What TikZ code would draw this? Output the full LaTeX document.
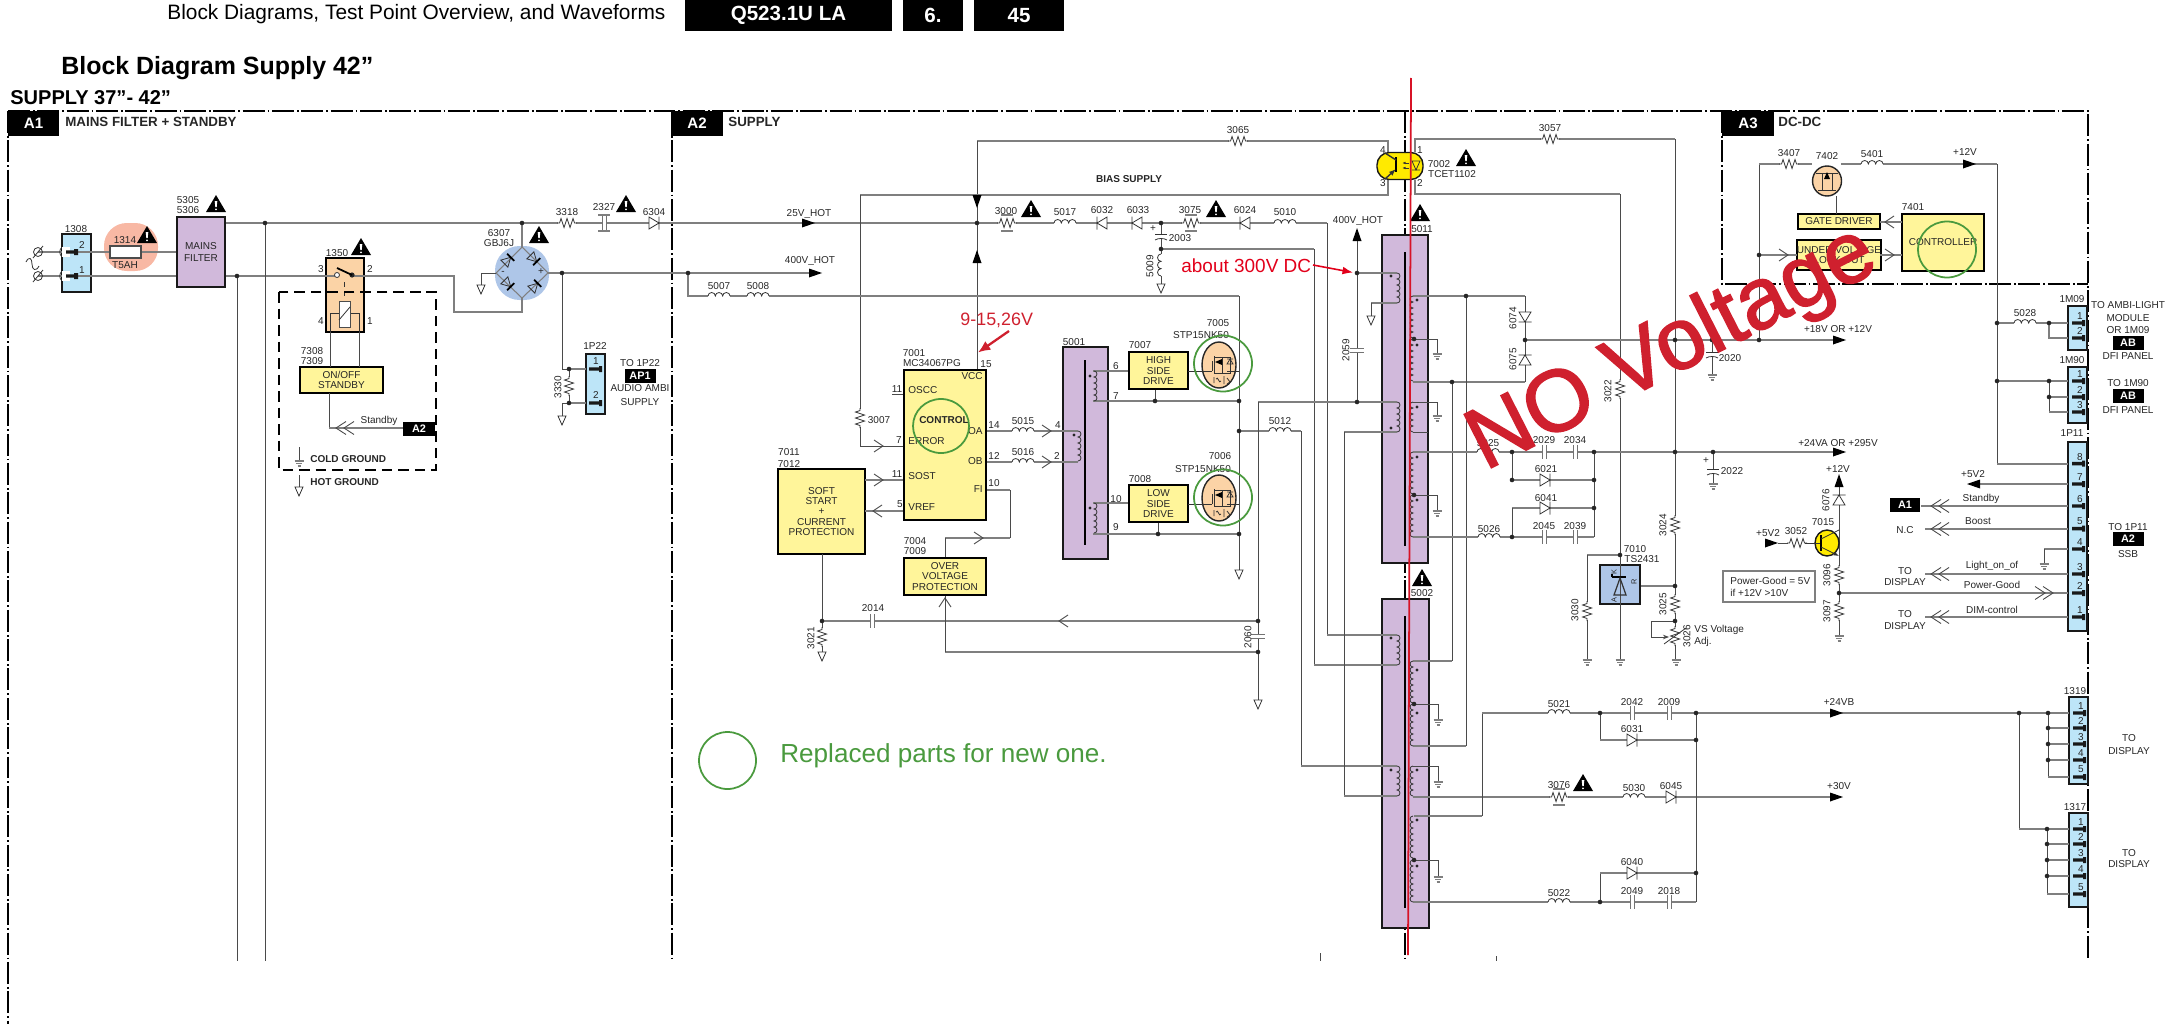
\documentclass[tikz,border=0pt]{standalone}
\usepackage{fontspec}
\setmainfont{Liberation Sans}
\newfontfamily\heavysans[FakeBold=1.8]{Liberation Sans}
\usetikzlibrary{arrows.meta}
\definecolor{wiregray}{HTML}{7F7F7F}
\definecolor{thingray}{HTML}{4A4A4A}
\definecolor{purplecore}{HTML}{D1B9DB}
\definecolor{connblue}{HTML}{BDE5F8}
\definecolor{blockyellow}{HTML}{FFF59A}
\definecolor{partorange}{HTML}{FBD3A6}
\definecolor{fusesalmon}{HTML}{F8B8A4}
\definecolor{bridgeblue}{HTML}{AEC6E8}
\definecolor{optoyellow}{HTML}{FFEA00}
\definecolor{markgreen}{HTML}{4A9A3E}
\definecolor{markred}{HTML}{CF202E}
\definecolor{linered}{HTML}{E2001A}
\tikzset{
  wire/.style={draw=wiregray,line width=1.1pt},
  thinwire/.style={draw=thingray,line width=.5pt},
  part/.style={draw=black!80,line width=.45pt},
  frameline/.style={draw=black,line width=1.1pt,dash pattern=on 12.5pt off 1.7pt on 1pt off 1.5pt},
  lab/.style={inner sep=0pt,text=black!85,font=\fontsize{5.7}{5.9}\selectfont,align=center},
  labl/.style={lab,anchor=west,align=left},
  labb/.style={lab,font=\fontsize{5.7}{5.9}\bfseries\selectfont},
  labbl/.style={labb,anchor=west},
  labsec/.style={labbl,font=\fontsize{7.6}{8}\bfseries\selectfont},
  labtiny/.style={lab,rotate=90,font=\fontsize{4.2}{5}\selectfont},
  labr/.style={lab,rotate=90},
  sized/.style 2 args={minimum width=#1*0.5691pt,minimum height=#2*0.5691pt,inner sep=0pt},
  yblock/.style={draw=black,line width=1.1pt,fill=blockyellow,lab},
  pblock/.style={draw=black!90,line width=1.1pt,fill=purplecore,lab},
  cblock/.style={draw=black!90,line width=1.1pt,fill=connblue},
  tagbox/.style={fill=black,text=white,inner sep=0pt,font=\fontsize{6.2}{7}\bfseries\selectfont},
  pics/resh/.style={code={
    \fill[white] (-9,-5) rectangle (9,5);
    \draw[part] (-10,0)--(-7.5,0)--(-6,-4.5)--(-3,4.5)--(0,-4.5)--(3,4.5)--(6,-4.5)--(7.5,0)--(10,0);}},
  pics/safe/.style={code={\draw[wire] (-6,-8)--(6,-8) (-6,8)--(6,8);}},
  pics/coilh/.style={code={
    \fill[white] (-11,-5) rectangle (11,1.5);
    \draw[part] (-11,0) foreach \i in {1,2,3} {arc[start angle=180,end angle=360,x radius=3.67,y radius=3.5]};}},
  pics/windR/.style={code={\draw[part] (0,0) foreach \i in {1,...,#1} {arc[start angle=-90,end angle=90,x radius=3,y radius=3]};}},
  pics/windL/.style={code={\draw[part] (0,0) foreach \i in {1,...,#1} {arc[start angle=270,end angle=90,x radius=3,y radius=3]};}},
  pics/dio/.style={code={
    \fill[white] (-5,-6) rectangle (5,6);
    \draw[part] (-5,-6)--(-5,6)--(5,0)--cycle (5,-6.5)--(5,6.5);}},
  pics/brd/.style={code={
    \draw[part] (-8,-5)--(-8,5)--(1,0)--cycle;
    \draw[black,line width=1pt] (1,-5)--(1,5);}},
  pics/caph/.style={code={
    \fill[white] (-2,-5) rectangle (2,5);
    \draw[part,draw=black!55] (-2,-7)--(-2,7) (2,-7)--(2,7);}},
  pics/capp/.style={code={
    \fill[white] (-7,-2) rectangle (7,3);
    \draw[part] (-6,-2)--(6,-2);
    \draw[part] (-6,4) .. controls (-3,2) and (3,2) .. (6,4);}},
  pics/tipr/.style={code={\fill[black] (-7,-4.5)--(6,0)--(-7,4.5)--cycle;}},
  pics/chev/.style={code={\draw[thinwire] (-4,-6)--(5,0)--(-4,6);}},
  pics/dchev/.style={code={\draw[thinwire] (-10,-6.5)--(0,0)--(-10,6.5) (-2,-6.5)--(8,0)--(-2,6.5);}},
  pics/gndtri/.style={code={\draw[part,fill=white] (-4,0)--(4,0)--(0,9)--cycle;}},
  pics/gndbar/.style={code={\draw[wire,line width=.7pt] (-4.5,0)--(4.5,0) (-3,2.5)--(3,2.5) (-1.5,5)--(1.5,5);}},
  pics/warn/.style={code={
    \fill[black] (-10,8)--(0,-9)--(10,8)--cycle;
    \fill[white] (-1.3,-3)--(1.3,-3)--(.7,3)--(-.7,3)--cycle (0,5.4) circle (1);}},
  pics/pinmk/.style={code={\fill[black!90] (0,-1.7) rectangle (10,1.7) (10,-3) rectangle (13,3);}},
  pics/mosfet/.style={code={
    \draw[draw=black!85,line width=.8pt,fill=partorange] (0,0) ellipse (17 and 23);
    \draw[part] (-31,6)--(-7,6) (-7,-4)--(-7,6) (-5,-9)--(-5,9) (-5,-8)--(11,-8)--(11,8)--(-5,8) (3,-8)--(3,8) (8,6)--(20,6);
    \fill[black] (-4,-3)--(3,-6)--(3,0)--cycle;
    \draw[part] (8,-1)--(14,-1)--(11,-6)--cycle (8,-6)--(14,-6);
    \draw[part] (-5,12)--(-5,18) (-3,14) .. controls (-1,10) and (0,20) .. (2,16) (5,11)--(5,19) (8,13)--(11,17)--(8,19);}},
  pics/opto/.style={code={
    \draw[draw=black!90,line width=.8pt,fill=optoyellow,rounded corners=7pt] (-23,-13.5) rectangle (23,13.5);
    \draw[black,line width=1pt] (-4,-9)--(-4,6);
    \draw[part,line width=.8pt] (-15,-13)--(-4,-6);
    \draw[part,line width=.8pt,-{Latex[length=4pt]}] (-15,13)--(-4,3);
    \draw[part] (12,-5)--(20,-5)--(16,4)--cycle (12,4)--(20,4);
    \draw[part,-{Latex[length=2pt]}] (9,-3)--(2,-3);
    \draw[part,-{Latex[length=2pt]}] (9,2)--(2,2);}},
  pics/bjt/.style={code={
    \draw[draw=black!90,line width=.8pt,fill=optoyellow] (0,0) ellipse (12 and 13);
    \draw[part] (-22,0)--(-6,0);
    \draw[black,line width=.9pt] (-6,-8)--(-6,8);
    \draw[part] (-6,-4)--(12,-13);
    \draw[part,-{Latex[length=3pt]}] (-6,4)--(12,13);}},
  pics/tlink/.style={code={
    \draw[black,line width=1pt] (-8,-9)--(-8,-12) (-8,-9)--(6,-9);
    \draw[part,line width=.7pt] (-6,9)--(6,9)--(0,-8)--cycle;}},
}
\begin{document}
\begin{tikzpicture}[x=0.02cm,y=-0.02cm]
\useasboundingbox (0,0) rectangle (2179,1024);
\node[anchor=west,inner sep=0pt,font=\fontsize{11.88}{13}\selectfont] (hdr) at (167,14) {Block Diagrams, Test Point Overview, and Waveforms};
\foreach \name/\cx/\bw/\txt in {hq/788.5/207/{Q523.1U LA},hch/933/60/6.,hpg/1019/90/45}
  \node[fill=black,text=white,sized={\bw}{31},font=\fontsize{11.7}{13}\bfseries\selectfont] (\name) at (\cx,15.5) {\txt};
\node[anchor=west,inner sep=0pt,font=\fontsize{14.2}{16}\bfseries\selectfont] (title) at (61,68) {Block Diagram Supply 42”};
\node[anchor=west,inner sep=0pt,font=\fontsize{11.4}{13}\bfseries\selectfont] (subtitle) at (10,98) {SUPPLY 37”- 42"};

\fill[fusesalmon,rounded corners=13pt] (104,223) rectangle (158,271);
\fill[bridgeblue,rounded corners=14pt] (495,246) rectangle (549,300);

\foreach \n/\x/\y in {ftl/8/111,ftr/2088/111,fbl/8/1024,fbr/2088/960,fm1/672/111,fm2/672/961,fc1/1405/111,fc2/1405/960,fa1/1722/111,fa2/1722/284,fa3/2088/284}
  \coordinate (\n) at (\x,\y);
\draw[frameline] (ftl) -- (ftr) -- (fbr);
\draw[frameline] (ftl) -- (fbl);
\draw[frameline] (fm1) -- (fm2);
\draw[frameline] (fc1) -- (fc2);
\draw[frameline] (fa1) -- (fa2) -- (fa3);

\node[cblock,sized={29}{58}] (1308) at (76.5,263) {};
\node[pblock,sized={48}{70}] (5305) at (201,252) {MAINS\\[1.4pt]FILTER};
\node[draw=black,line width=1.1pt,fill=partorange,sized={38}{74}] (1350) at (345,295) {};
\node[cblock,sized={19}{60}] (1P22) at (595.5,384) {};
\node[yblock,sized={83}{26}] (7308) at (341.5,380) {ON/OFF\\STANDBY};
\node[yblock,sized={82}{150}] (7001) at (945,445) {};
\node[yblock,sized={87}{85}] (7011) at (821.5,511.5) {SOFT\\START\\+\\CURRENT\\PROTECTION};
\node[yblock,sized={82}{37}] (7004) at (945,576.5) {OVER\\VOLTAGE\\PROTECTION};
\node[pblock,sized={45}{212}] (5001) at (1085.5,453) {};
\node[yblock,sized={59}{37}] (7007) at (1158.5,370.5) {HIGH\\SIDE\\DRIVE};
\node[yblock,sized={59}{37}] (7008) at (1158.5,503.5) {LOW\\SIDE\\DRIVE};
\node[pblock,sized={46}{328}] (5011) at (1405,399) {};
\node[pblock,sized={47}{329}] (5002) at (1405.5,763.5) {};
\node[draw=black!90,line width=1.1pt,fill=bridgeblue,sized={40}{39}] (7010) at (1620,584.5) {};
\node[yblock,sized={82}{15}] (gatedrv) at (1839,221.5) {GATE DRIVER};
\node[yblock,sized={82}{30}] (uvlo) at (1839,255) {UNDER VOLTAGE\\LOCK OUT};
\node[yblock,sized={82}{57}] (7401) at (1943,242.5) {CONTROLLER};
\node[cblock,sized={19}{44}] (1M09) at (2077.5,328) {};
\node[cblock,sized={19}{56}] (1M90) at (2077.5,395) {};
\node[cblock,sized={19}{189}] (1P11) at (2077.5,536.5) {};
\node[cblock,sized={19}{87}] (1319) at (2078.5,740.5) {};
\node[cblock,sized={19}{94}] (1317) at (2078.5,860) {};
\node[draw=wiregray,line width=.8pt,sized={92}{31}] (pgnote) at (1769,586.5) {};

\foreach \n/\txt/\x/\w in {taga1/A1/33.5/51,taga2/A2/697/52,taga3/A3/1748/52}
  \node[tagbox,font=\fontsize{8.6}{10}\bfseries\selectfont,sized={\w}{25}] (\n) at (\x,123.5) {\txt};
\foreach \n/\txt/\x/\y/\w in {tagap/AP1/640/376/31,tagst/A2/419/429/32,tagab1/AB/2128/343/31,tagab2/AB/2128/396/31,tagssb/A2/2128/539/31,tagsa/A1/1905/505/30}
  \node[tagbox,sized={\w}{14}] (\n) at (\x,\y) {\txt};

\foreach \n/\x/\y in {in2/38/252,in1/38/276,t265/265/223,b265/265/961,j237/237/276,b237/237/961,t522/522/223,br1/522/247,br2/548/273,br3/522/298,br4/496/273,
  k1/454/276,k2/454/312,k3/522/312,g1/481/273,g2/481/285,r562/562/273,r688/688/273,e400/816/273,d1/688/296,d2/1239/296,d3/1239/570,
  q1/562/369,q2/569/369,q3/586/369,q4/569/403,q5/586/403,q6/562/403,q7/562/416,u1/330/332,u2/330/367,u3/359/332,u4/359/367,v1/329/393,v2/329/428,v3/403/428,
  sw1/337/276,sw2/352/276,cg1/299/447,cg2/299/461,hg1/299/475,hg2/299/487,
  f1/977/141,f2/1388/141,f3/1388/152,f5/977/223,h1/860/195,h2/1388/195,h3/1388/180,h4/860/446,s1/1161/223,s2/1161/249,s3/1314/249,s4/1314/665,s5/1397/665,s6/1161/284,
  m1/1327/223,m2/1327/635,m3/1397/635,a1/1093/371,a5/1093/401,a6/1239/401,a8/1155/401,c1/1093/503,c5/1093/534,c6/1239/534,c8/1158/534,
  e1/1239/431,e2/1301/431,e3/1301/766,e4/1397/766,l1/1357/402,l2/1258/402,l3/1258/700,l4/1258/621,l5/1258/652,l6/822/621,l7/945/652,
  z1/1357/234,z2/1357/273,z3/1397/273,z4/1397/303,z5/1371/303,z6/1371/316,z7/1397/402,z8/1397/432,z9/1344/432,z10/1344/796,z11/1397/796,
  oa2/1078/431,ob2/1078/462,fi2/1010/490,fi3/1010/538,fi4/945/538,ss1/865/480,ss3/865/511,ss5/822/554,ss6/822/660,os1/892/394,
  o1/1415/152,o2/1415/139,o3/1675/139,o4/1675/660,o5/1415/180,o6/1415/194,o7/1620/194,o8/1620/660,o9/1620/555,o10/1587/555,o11/1587/660,o12/1675/586,o13/1675/621,o14/1651/621,o15/1651/637,o16/1669/637,o17/1675/340,o18/1675/452,
  w1/1413/296,w2/1525/296,w3/1525/382,w4/1413/382,w5/1466/296,w6/1466/746,w7/1413/746,w8/1452/382,w9/1452/661,w10/1413/661,w11/1414/339,w12/1437/339,w13/1437/354,w14/1525/340,w15/1840/340,
  w16/1413/402,w17/1437/402,w18/1437/416,w19/1413/432,w20/1428/432,w21/1413/452,w22/1840/452,w23/1414/495,w24/1437/495,w25/1437/511,w26/1413/537,w27/1594/537,w28/1594/452,
  w29/1512/452,w30/1512/480,w31/1594/480,w32/1512/508,w33/1594/508,w34/1512/537,w35/1712/340,w36/1712/375,w37/1713/452,w38/1713/484,
  y1/1414/704,y2/1438/704,y3/1438/720,y4/1413/766,y5/1438/766,y6/1438/782,y7/1413/797,y8/1837/797,y9/1414/816,y10/1482/816,y11/1482/713,y12/1837/713,y13/2069/713,y14/1414/860,y15/1438/860,y16/1438/877,
  y17/1413/902,y18/1696/902,y19/1696/713,y20/1600/713,y21/1600/740,y22/1696/740,y23/1600/902,y24/1600/873,y25/1696/873,
  n1/2019/713,n2/2019/829,n3/2069/829,n4/2047/829,n5/2047/894,n6/2069/894,n7/2047/844,n8/2069/844,n9/2047/860,n10/2069/860,n11/2047/876,n12/2069/876,
  n13/2048/713,n14/2048/777,n15/2069/777,n16/2048/728,n17/2069/728,n18/2048/744,n19/2069/744,n20/2048/760,n21/2069/760,
  i1/1759/340,i2/1759/164,i3/1812/164,i4/1841/164,i5/1997/164,i6/1997/464,i7/2068/464,i8/1759/255,i9/1836/196,i10/1836/214,i11/1902/222,i12/1880/222,i13/1880/255,i14/1902/255,i15/1797/255,
  i16/1997/323,i17/2068/323,i18/2049/323,i19/2049/338,i20/2068/338,i21/1997/381,i22/2068/381,i23/2049/381,i24/2049/412,i25/2068/412,i26/2049/397,i27/2068/397,
  p1/1839/480,p2/1839/636,p3/1839/593,p4/2068/593,p5/1778/543,p6/1815/543,p7/2068/484,p8/1973/484,p9/2068/506,p10/1921/506,p11/2068/529,p12/1925/529,p13/2068/549,p14/2044/549,p15/2044/564,p16/2068/574,p17/1925/574,p18/2068/617,p19/1925/617,
  tk1/1320/953,tk2/1320/961,tk3/1496/956,tk4/1496/961,rv1/1411/78,rv2/1408/955}
  \coordinate (\n) at (\x,\y);

\draw[wire] (in2) -- (in2 -| 5305.west);
\draw[wire] (in1) -- (in1 -| 5305.west);
\draw[wire] (5305.east |- j237) -- (sw1);
\draw[wire,line width=.8pt] (sw2) -- (k1) -- (k2) -- (k3) -- (br3);
\draw[wire] (5305.east |- t265) -- (f5) -- (s1) -- (m1);
\draw[thinwire] (t265) -- (b265);
\draw[thinwire] (j237) -- (b237);
\draw[wire,line width=.6pt] (t522) -- (br1);
\draw[wire,line width=.6pt] (br1) -- (br2) -- (br3) -- (br4) -- cycle;
\draw[thinwire] (br4) -- (g1) -- (g2);
\draw[wire] (br2) -- (e400);
\draw[thinwire] (r562) -- (q1) -- (q2);
\draw[wire] (q2) -- (q3);
\draw[thinwire] (q2) -- (q4);
\draw[wire] (q4) -- (q5);
\draw[thinwire] (q6) -- (q4);
\draw[thinwire] (q6) -- (q7);
\draw[thinwire] (u1) -- (u2);
\draw[thinwire] (u3) -- (u4);
\draw[thinwire] (v1) -- (v2);
\draw[wire] (v2) -- (v3);
\draw[thinwire] (cg1) -- (cg2);
\draw[thinwire] (hg1) -- (hg2);

\draw[wire] (f1) -- (f2) -- (f3);
\draw[thinwire] (f1) -- (f1 |- 7001.north);
\draw[wire] (h1) -- (h2) -- (h3);
\draw[thinwire] (h1) -- (h4);
\draw[thinwire] (h4) -- (h4 -| 7001.west);
\draw[thinwire] (os1) -- (os1 -| 7001.west);
\draw[thinwire] (s1) -- (s6);
\draw[wire] (s2) -- (s3);
\draw[thinwire] (s3) -- (s4);
\draw[wire] (s4) -- (s5);
\draw[thinwire] (m1) -- (m2);
\draw[wire] (m2) -- (m3);
\draw[wire] (r688) -- (d1) -- (d2);
\draw[thinwire] (d2) -- (d3);
\draw[wire] (a1) -- (a1 -| 7007.west);
\draw[wire] (a5) -- (a6);
\draw[thinwire] (a8) -- (a8 |- 7007.south);
\draw[wire] (c1) -- (c1 -| 7008.west);
\draw[wire] (c5) -- (c6);
\draw[thinwire] (c8) -- (c8 |- 7008.south);
\draw[wire] (e1) -- (e2);
\draw[thinwire] (e2) -- (e3);
\draw[wire] (e3) -- (e4);
\draw[wire] (z7) -- (l2);
\draw[thinwire] (l2) -- (l3);
\draw[wire] (l4) -- (l6);
\draw[wire] (l5) -- (l7);
\draw[thinwire] (l7) -- (l7 |- 7004.south);
\draw[thinwire] (z1) -- (l1);
\draw[wire] (z2) -- (z3);
\draw[wire] (z4) -- (z5);
\draw[thinwire] (z5) -- (z6);
\draw[wire] (z8) -- (z9);
\draw[thinwire] (z9) -- (z10);
\draw[wire] (z10) -- (z11);
\draw[wire] (oa2 -| 7001.east) -- (oa2);
\draw[wire] (ob2 -| 7001.east) -- (ob2);
\draw[wire] (fi2 -| 7001.east) -- (fi2);
\draw[thinwire] (fi2) -- (fi3);
\draw[wire] (fi3) -- (fi4);
\draw[thinwire] (fi4) -- (fi4 |- 7004.north);
\draw[wire] (ss1) -- (ss1 -| 7001.west);
\draw[wire] (ss3) -- (ss3 -| 7001.west);
\draw[thinwire] (ss5) -- (ss6);

\draw[wire] (o1) -- (o2) -- (o3);
\draw[thinwire] (o3) -- (o4);
\draw[wire] (o5) -- (o6) -- (o7);
\draw[thinwire] (o7) -- (o8);
\draw[wire] (o9) -- (o10);
\draw[thinwire] (o10) -- (o11);
\draw[wire] (o12 -| 7010.east) -- (o12);
\draw[thinwire] (o13) -- (o14) -- (o15);
\draw[thinwire,-{Stealth[length=3.5pt]}] (o15) -- (o16);
\draw[wire] (w1) -- (w2);
\draw[wire] (w3) -- (w4);
\draw[thinwire] (w2) -- (w3);
\draw[thinwire] (w5) -- (w6);
\draw[wire] (w6) -- (w7);
\draw[thinwire] (w8) -- (w9);
\draw[wire] (w9) -- (w10);
\draw[thinwire] (w11) -- (w12) -- (w13);
\draw[wire] (w14) -- (w15);
\draw[thinwire] (w16) -- (w17) -- (w18);
\draw[thinwire] (w19) -- (w20);
\draw[wire] (w21) -- (w22);
\draw[thinwire] (w23) -- (w24) -- (w25);
\draw[wire] (w26) -- (w27);
\draw[thinwire] (w28) -- (w27);
\draw[thinwire] (w29) -- (w30);
\draw[wire] (w30) -- (w31);
\draw[wire] (w32) -- (w33);
\draw[thinwire] (w32) -- (w34);
\draw[thinwire] (w35) -- (w36);
\draw[thinwire] (w37) -- (w38);
\draw[thinwire] (y1) -- (y2) -- (y3);
\draw[thinwire] (y4) -- (y5) -- (y6);
\draw[wire] (y7) -- (y8);
\draw[wire] (y9) -- (y10);
\draw[thinwire] (y10) -- (y11);
\draw[wire] (y11) -- (y13);
\draw[thinwire] (y14) -- (y15) -- (y16);
\draw[wire] (y17) -- (y18);
\draw[thinwire] (y18) -- (y19);
\draw[thinwire] (y20) -- (y21);
\draw[wire] (y21) -- (y22);
\draw[thinwire] (y23) -- (y24);
\draw[wire] (y24) -- (y25);
\draw[thinwire] (n1) -- (n2);
\draw[wire] (n2) -- (n3);
\draw[thinwire] (n4) -- (n5);
\draw[wire] (n5) -- (n6);
\draw[wire] (n7) -- (n8);
\draw[wire] (n9) -- (n10);
\draw[wire] (n11) -- (n12);
\draw[thinwire] (n13) -- (n14);
\draw[wire] (n14) -- (n15);
\draw[wire] (n16) -- (n17);
\draw[wire] (n18) -- (n19);
\draw[wire] (n20) -- (n21);

\draw[thinwire] (i1) -- (i2);
\draw[wire] (i2) -- (i3);
\draw[wire] (i4) -- (i5);
\draw[thinwire] (i5) -- (i6);
\draw[wire] (i6) -- (i7);
\draw[wire] (i8) -- (i15);
\draw[thinwire] (i9) -- (i10);
\draw[wire] (i11) -- (i12);
\draw[wire] (i13) -- (i14);
\draw[wire] (i16) -- (i17);
\draw[wire] (i18) -- (i19) -- (i20);
\draw[wire] (i21) -- (i22);
\draw[thinwire] (i23) -- (i24);
\draw[wire] (i24) -- (i25);
\draw[wire] (i26) -- (i27);
\draw[thinwire] (p1) -- (p2);
\draw[wire] (p3) -- (p4);
\draw[thinwire] (p5) -- (p6);
\draw[wire] (p7) -- (p8);
\draw[wire] (p9) -- (p10);
\draw[wire] (p11) -- (p12);
\draw[wire] (p13) -- (p14);
\draw[thinwire] (p14) -- (p15);
\draw[wire] (p16) -- (p17);
\draw[wire] (p18) -- (p19);
\draw[thinwire] (tk1) -- (tk2);
\draw[thinwire] (tk3) -- (tk4);

\foreach \x/\y in {567/223,1238/141,1550/139,1007/223,1191/223,1789/164,1797/543}
  \pic at (\x,\y) {resh};
\foreach \x/\y in {1007/223,1191/223}
  \pic at (\x,\y) {safe};
\pic at (1559,797) {resh};
\pic at (1559,797) {safe};
\foreach \x/\y in {860/418,569/386,822/637,1620/389,1587/611,1675/525,1675/604,1675/636,1839/575,1839/611}
  \pic[rotate=90] at (\x,\y) {resh};
\foreach \x/\y in {719/296,758/296,1065/223,1285/223,1023/431,1023/462,1280/431,1488/452,1489/537,1872/164,2025/323,1559/713,1634/797,1559/902}
  \pic at (\x,\y) {coilh};
\pic[rotate=90] at (1161,265) {coilh};
\foreach \x/\y in {654/223,1545/480,1545/508,1671/797,1632/740,1632/873}
  \pic at (\x,\y) {dio};
\foreach \x/\y in {1102/223,1137/223,1245/223}
  \pic[rotate=180] at (\x,\y) {dio};
\pic[rotate=-90] at (1525,317) {dio};
\pic[rotate=90] at (1525,360) {dio};
\pic[rotate=90] at (1839,500) {dio};
\foreach \x/\y in {604/223,872/621,1544/452,1575/452,1544/537,1575/537,1632/713,1669/713,1632/902,1669/902}
  \pic at (\x,\y) {caph};
\pic at (604,223) {safe};
\foreach \x/\y in {1357/350,1258/636}
  \pic[rotate=90] at (\x,\y) {caph};
\foreach \x/\y in {1161/236,1712/354,1713/471}
  \pic at (\x,\y) {capp};

\pic[rotate=45] at (510,258) {brd};
\pic[rotate=-45] at (536,261) {brd};
\pic[rotate=-45] at (510,286) {brd};
\pic[rotate=45] at (537,284) {brd};

\foreach \x/\y in {1219/365,1219/498}
  \pic at (\x,\y) {mosfet};
\pic at (1400,166) {opto};
\pic at (1827,543) {bjt};
\pic at (1620,586) {tlink};
\draw[draw=black!85,line width=.8pt,fill=partorange] (1827,181) ellipse (14.5 and 15);
\draw[part] (1816,173)--(1838,173) (1822,173)--(1822,190) (1832,173)--(1832,190) (1818,190)--(1836,190);
\fill[black] (1827,172) -- (1824,179) -- (1830,179) -- cycle;

\foreach \x/\y/\r in {816/273/0,809/223/0,977/202/-90,977/256/90,1357/234/90,1840/340/0,1840/452/0,1837/713/0,1837/797/0,1970/164/0,1973/484/180,1772/543/0,1839/480/90}
  \pic[rotate=\r] at (\x,\y) {tipr};
\foreach \x/\y/\r in {878/446/0,878/480/0,878/511/180,978/538/0,1046/431/0,1046/462/0,1064/621/180,945/603/90,1783/255/0,1890/222/180,1889/255/0}
  \pic[rotate=\r] at (\x,\y) {chev};
\foreach \x/\y/\r in {344/428/180,1939/506/180,1939/529/180,1939/574/180,1939/617/180,2045/593/0}
  \pic[rotate=\r] at (\x,\y) {dchev};
\foreach \x/\y in {481/285,562/416,299/487,1161/284,1239/570,1258/700,822/652,1371/316}
  \pic at (\x,\y) {gndtri};
\foreach \x/\y in {299/461,1437/354,1437/416,1437/511,1712/375,1713/484,1587/660,1620/660,1676/660,1839/636,2044/564,1438/720,1438/782,1438/877}
  \pic at (\x,\y) {gndbar};
\foreach \x/\y in {147/235,216/204,361/247,539/235,626/204,1031/209,1216/209,1466/158,1420/213,1422/578,1583/783}
  \pic at (\x,\y) {warn};

\foreach \c in {t265,j237,t522,r562,r688,q2,q4,f5,s1,s2,a8,c8,a6,c6,e1,l1,z2,l4,l5,ss6 |- l4,w2 |- w14,w5,w8,w11,w23,o3 |- w14,w35,i1,o18,w37,w29,w28,w30 -| w31,w32 -| w33,w34,w30 -| w29,o9,o12,o13,i16,i18,i21,i23,i26,i8,p3,n1,n13,n16,n18,n20,n4,n7,n9,n11,y20,y19,y22,y25,y24 |- y23,y1,y14}
  \fill[black!85] (\c) circle (2.3);

\foreach \x/\y in {1074/435,1090/376,1090/508,1391/276,1391/428,1417/300,1417/345,1417/407,1417/457,1417/500,1391/638,1391/770,1417/670,1417/713,1417/770,1417/820,1417/866}
  \fill[black!85] (\x,\y) circle (1.6);

\foreach \x/\y/\n in {1078/431/5,1094/371/5,1094/503/5,1397/273/5,1397/402/5,1397/635/5,1397/766/5}
  \pic at (\x,\y) {windR=\n};
\foreach \x/\y/\n in {1413/296/7,1413/339/7,1413/402/5,1413/452/7,1413/495/7,1413/661/7,1413/704/7,1413/766/5,1413/816/7,1413/860/7}
  \pic at (\x,\y) {windL=\n};
\draw[black,line width=1.2pt] (1085,360) -- (1085,545);
\draw[black,line width=1.2pt] (1405,252) -- (1405,546);
\draw[black,line width=1.2pt] (1405,616) -- (1405,908);

\foreach \y in {252,276} {
  \draw[part] (38,\y) circle (4.5);
  \draw[part] (33,\y+6) -- (43,\y-6);
  \draw[part] (62,\y-5) .. controls (59,\y-2) and (59,\y+2) .. (62,\y+5);
  \fill[white] (62,\y-5) rectangle (70,\y+5);
  \fill[black!90] (66,\y-1.7) rectangle (74,\y+1.7) (74,\y-3) rectangle (78,\y+3);
}
\draw[part] (26,262) .. controls (29,256) and (32,258) .. (32,264) .. controls (32,270) and (36,272) .. (39,266);
\draw[draw=black!70,line width=.6pt,fill=white] (110,246) rectangle (141,258);
\foreach \y in {369,403}
  \pic at (589,\y) {pinmk};
\foreach \y in {463.6,484,506,528.6,549,574,593,617,323,338,381,397,412}
  \pic at (2072,\y) {pinmk};
\foreach \y in {713,728,744,760,777,829,844,860,876,894}
  \pic at (2073,\y) {pinmk};

\draw[part,fill=white] (337,275) circle (2.5);
\fill[black!85] (352,275) circle (2.6);
\draw[black,line width=1pt] (337,268) -- (352,275);
\draw[part,densely dashed] (344,282) -- (344,297);
\draw[part] (330,332) -- (330,313) -- (359,313) -- (359,332);
\draw[draw=black!70,line width=.5pt,fill=white] (339,301) rectangle (350,327);
\draw[part] (339,320) -- (350,307);
\draw[black,line width=1.1pt,dashed,dash pattern=on 6pt off 3.4pt] (279,292) rectangle (436,470);

\draw[part] (1664,644) -- (1686,628);

\foreach \x/\y/\txt [count=\i] in {76/229/1308,82/245/2,82/270/1,125/240/1314,125/265/T5AH,188/200/5305,188/210/5306,567/212/3318,604/207/2327,654/212/6304,499/233/6307,499/243/GBJ6J,503/273/-,541/272/+,595/346/1P22,640/363/TO 1P22,640/388/AUDIO AMBI,640/402/SUPPLY,337/253/1350,321/269/3,370/269/2,321/321/4,370/321/1,312/351/7308,312/361/7309,379/421/Standby,
  809/214/25V\_HOT,810/261/400V\_HOT,1238/130/3065,1006/211/3000,1065/212/5017,1102/210/6032,1138/210/6033,1190/210/3075,1245/210/6024,1285/212/5010,719/286/5007,758/286/5008,1180/238/2003,1153/229/+,914/353/7001,932/363/MC34067PG,986/364/15,879/420/3007,789/452/7011,789/464/7012,915/541/7004,915/551/7009,873/608/2014,1023/421/5015,1023/452/5016,994/425/14,994/456/12,994/483/10,1058/425/4,1057/456/2,1116/366/6,1116/396/7,1116/499/10,1116/527/9,1074/342/5001,1140/345/7007,1140/479/7008,1218/323/7005,1201/335/STP15NK50,1220/456/7006,1203/469/STP15NK50,1280/421/5012,897/389/11,899/440/7,897/474/11,900/504/5}
  \node[lab] (la\i) at (\x,\y) {\txt};
\foreach \x/\y/\txt [count=\i] in {1358/221/400V\_HOT,1422/229/5011,1439/164/7002,1452/174/TCET1102,1383/150/4,1420/150/1,1383/183/3,1420/183/2,1550/128/3057,1838/329/+18V OR +12V,1730/358/2020,1488/443/5025,1544/440/2029,1575/440/2034,1546/469/6021,1546/498/6041,1544/526/2045,1575/526/2039,1489/529/5026,1732/471/2022,1706/461/+,1838/443/+24VA OR +295V,1838/469/+12V,1768/533/+5V2,1796/531/3052,1823/522/7015,1635/549/7010,1642/559/TS2431,
  1973/474/+5V2,1981/499/Standby,1978/521/Boost,1905/530/N.C,1905/571/TO,1905/582/DISPLAY,1992/566/Light\_on\_of,1992/585/Power-Good,1992/610/DIM-control,1905/614/TO,1905/626/DISPLAY,1789/153/3407,1827/156/7402,1872/154/5401,1965/152/+12V,1913/207/7401,2025/313/5028,
  2072/433/1P11,2072/299/1M09,2072/360/1M90,2075/691/1319,2075/807/1317,2128/305/TO AMBI-LIGHT,2128/318/MODULE,2128/330/OR 1M09,2128/356/DFI PANEL,2128/383/TO 1M90,2128/410/DFI PANEL,2128/527/TO 1P11,2128/554/SSB,2129/738/TO,2129/751/DISPLAY,2129/853/TO,2129/864/DISPLAY,
  1422/593/5002,1559/785/3076,1634/788/5030,1671/786/6045,1839/786/+30V,1559/704/5021,1632/702/2042,1669/702/2009,1839/702/+24VB,1632/729/6031,1632/862/6040,1559/893/5022,1632/891/2049,1669/891/2018}
  \node[lab] (lb\i) at (\x,\y) {\txt};
\foreach \y/\txt [count=\i] in {457/8,477/7,499/6,521/5,542/4,567/3,586/2,610/1,316/1,331/2,374/1,390/2,405/3}
  \node[lab] (ld\i) at (2080,\y) {\txt};
\foreach \y/\txt [count=\i] in {706/1,721/2,737/3,753/4,769/5,822/1,837/2,853/3,869/4,887/5}
  \node[lab] (le\i) at (2081,\y) {\txt};
\foreach \y/\txt [count=\i] in {361/1,395/2}
  \node[lab] (lf\i) at (596,\y) {\txt};
\foreach \x/\y/\txt [count=\i] in {558/387/3330,1150/266/5009,811/638/3021,1346/350/2059,1248/637/2060,1513/318/6074,1513/359/6075,1608/391/3022,1663/525/3024,1663/604/3025,1575/610/3030,1687/636/3026,1826/500/6076,1827/575/3096,1827/611/3097}
  \node[labr] (lr\i) at (\x,\y) {\txt};
\foreach \x/\y/\txt [count=\i] in {1614/572/K,1634/582/R,1614/600/A}
  \node[labtiny] (lt\i) at (\x,\y) {\txt};
\foreach \y/\txt [count=\i] in {390/OSCC,441/ERROR,476/SOST,507/VREF}
  \node[labl] (lp\i) at (908,\y) {\txt};
\foreach \y/\txt [count=\i] in {376/VCC,431/OA,461/OB,489/FI}
  \node[lab,anchor=east] (lq\i) at (983,\y) {\txt};
\node[labl] (lvs) at (1694,630) {VS Voltage};
\node[labl] (ladj) at (1694,642) {Adj.};
\node[labl] (lnote1) at (1730,581) {Power-Good = 5V};
\node[labl] (lnote2) at (1730,593) {if +12V >10V};
\foreach \x/\txt [count=\i] in {65/MAINS FILTER + STANDBY,728/SUPPLY,1778/DC-DC}
  \node[labsec] (lsec\i) at (\x,121.5) {\txt};
\foreach \x/\y/\txt [count=\i] in {310/459/COLD GROUND,310/482/HOT GROUND}
  \node[labbl] (lh\i) at (\x,\y) {\txt};
\node[labb] (lbias) at (1129,179) {BIAS SUPPLY};
\node[labb] (lctl) at (944,420) {CONTROL};

\foreach \x/\y/\rx/\ry in {941/426/28/27,1223/363.5/29/28,1223/497.5/29/28,1947/249.5/29/28,727.5/760.5/28.5/28.5}
  \draw[markgreen,line width=1pt] (\x,\y) ellipse [x radius=\rx,y radius=\ry];
\node[anchor=west,inner sep=0pt,text=markgreen,font=\fontsize{14.85}{17}\selectfont] (lrepl) at (780,756) {Replaced parts for new one.};

\draw[markred!60!linered,line width=1pt] (rv1) -- (rv2);
\node[inner sep=0pt,text=markred,rotate=27,font=\fontsize{49.5}{52}\heavysans] (lnov) at (1673,350) {NO Voltage};
\node[anchor=west,inner sep=0pt,text=linered,font=\fontsize{10.8}{12}\selectfont] (l300) at (1181,266) {about 300V DC};
\node[anchor=west,inner sep=0pt,text=markred,font=\fontsize{10.2}{12}\selectfont] (l915) at (960,320) {9-15,26V};
\coordinate (ar1) at (1313,265);
\coordinate (ar2) at (1353,272.5);
\coordinate (ar3) at (1009,331);
\coordinate (ar4) at (978,352.5);
\draw[linered,line width=.9pt,-{Latex[length=6pt,width=4.5pt]}] (ar1) -- (ar2);
\draw[markred,line width=1.3pt,-{Latex[length=7pt,width=6pt]}] (ar3) -- (ar4);
\end{tikzpicture}
\end{document}
